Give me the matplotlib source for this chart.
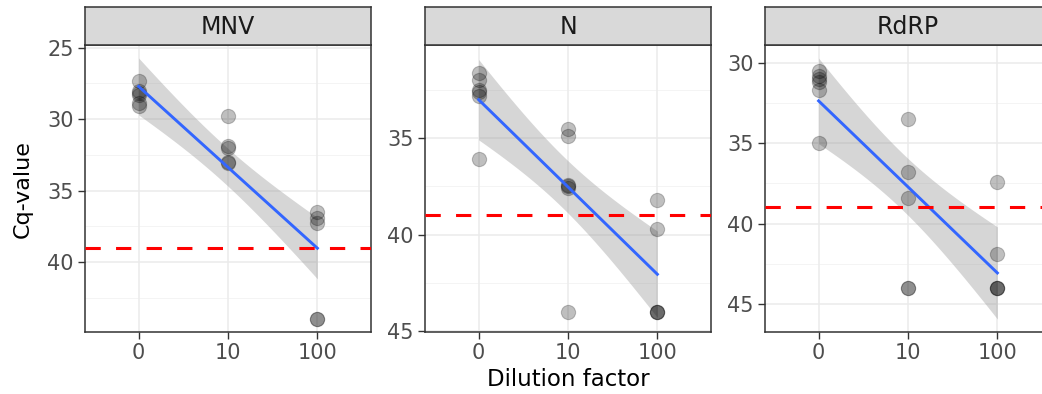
import numpy as np
import matplotlib
matplotlib.use("Agg")
import matplotlib.pyplot as plt

# ---- data ----
dilutions = ["0", "10", "100"]
targets = ["MNV", "N", "RdRP"]

mnv_0 = [27.3, 28.0, 28.2, 28.3, 28.9, 29.1]
mnv_10 = [29.8, 31.9, 32.0, 33.0, 33.1]
mnv_100 = [36.5, 36.9, 37.3, 44.0, 44.0]

n_0 = [31.6, 32.0, 32.5, 32.6, 32.8, 36.1]
n_10 = [34.5, 34.9, 37.4, 37.5, 37.6, 44.0]
n_100 = [38.2, 39.7, 44.0, 44.0, 44.0]

rdrp_0 = [30.5, 30.8, 31.0, 31.2, 31.7, 35.0]
rdrp_10 = [33.5, 36.8, 38.4, 44.0, 44.0]
rdrp_100 = [37.4, 41.9, 44.0, 44.0, 44.0]

cutoff = 39.0

yticks = {"MNV": [25, 30, 35, 40], "N": [35, 40, 45], "RdRP": [30, 35, 40, 45]}
ylims = {"MNV": (44.90, 24.81), "N": (45.05, 30.16), "RdRP": (46.74, 28.90)}

groups = {
    "MNV": [mnv_0, mnv_10, mnv_100],
    "N": [n_0, n_10, n_100],
    "RdRP": [rdrp_0, rdrp_10, rdrp_100],
}

T975 = {8: 2.306, 9: 2.262, 10: 2.228, 11: 2.201, 12: 2.179, 13: 2.160, 14: 2.145,
        15: 2.131, 16: 2.120, 17: 2.110, 18: 2.101, 19: 2.093, 20: 2.086}

W, H = 1042, 394
fig = plt.figure(figsize=(W / 100, H / 100), dpi=100)
plt.rcParams['font.family'] = ['DejaVu Sans']

panel_left_px = [85, 425, 765]
panel_w_px = 286
top_px, bot_px, strip_top_px = 45, 332, 7

for i, t in enumerate(targets):
    l = panel_left_px[i] / W
    b = 1 - bot_px / H
    ax = fig.add_axes([l, b, panel_w_px / W, (bot_px - top_px) / H])
    ax.set_xlim(0.4, 3.6)
    ax.set_ylim(*ylims[t])
    ax.set_facecolor("white")

    # grid
    lo, hi = min(ylims[t]), max(ylims[t])
    for yv in np.arange(22.5, 50, 5):
        if lo < yv < hi:
            ax.axhline(yv, color="#F2F2F2", lw=0.6, zorder=0)
    for yv in yticks[t]:
        ax.axhline(yv, color="#EBEBEB", lw=1.1, zorder=0)
    for xv in [1, 2, 3]:
        ax.axvline(xv, color="#EBEBEB", lw=1.1, zorder=0)

    # data
    xs, ys = [], []
    for k, vals in enumerate(groups[t]):
        xs += [k + 1] * len(vals)
        ys += vals
    xs = np.array(xs, float)
    ys = np.array(ys, float)

    # linear fit with 95% CI
    n = len(xs)
    xbar = xs.mean()
    sxx = ((xs - xbar) ** 2).sum()
    slope = ((xs - xbar) * (ys - ys.mean())).sum() / sxx
    icpt = ys.mean() - slope * xbar
    resid = ys - (icpt + slope * xs)
    s = np.sqrt((resid ** 2).sum() / (n - 2))
    xg = np.linspace(1, 3, 80)
    yg = icpt + slope * xg
    se = s * np.sqrt(1 / n + (xg - xbar) ** 2 / sxx)
    tq = T975.get(n - 2, 2.1)
    ax.fill_between(xg, yg - tq * se, yg + tq * se, color="#999999", alpha=0.4,
                    lw=0, zorder=1)

    ax.scatter(xs, ys, s=105, facecolor=(0, 0, 0, 0.25), edgecolor=(0, 0, 0, 0.22),
               lw=0.8, zorder=3)
    ax.plot(xg, yg, color="#3366FF", lw=2.1, zorder=4)
    ax.axhline(cutoff, color="#FF0000", lw=2.2, dashes=(5, 5), zorder=5)

    ax.set_xticks([1, 2, 3])
    ax.set_xticklabels(dilutions)
    ax.set_yticks(yticks[t])
    ax.tick_params(axis="both", labelsize=15, labelcolor="#4D4D4D", color="#333333",
                   length=5, width=1, pad=3)
    for sp in ax.spines.values():
        sp.set_color("#333333")
        sp.set_linewidth(1.1)

    # strip
    sax = fig.add_axes([l, 1 - top_px / H, panel_w_px / W, (top_px - strip_top_px) / H])
    sax.set_facecolor("#D9D9D9")
    sax.set_xticks([])
    sax.set_yticks([])
    for sp in sax.spines.values():
        sp.set_color("#333333")
        sp.set_linewidth(1.1)
    sax.text(0.5, 0.47, t, ha="center", va="center", fontsize=17, color="#1A1A1A",
             transform=sax.transAxes)

fig.text(23 / W, 1 - 189 / H, "Cq-value", rotation=90, ha="center", va="center",
         fontsize=16, color="black")
fig.text(568 / W, 1 - 379 / H, "Dilution factor", ha="center", va="center",
         fontsize=16.5, color="black")

fig.savefig("out.png", dpi=100)
